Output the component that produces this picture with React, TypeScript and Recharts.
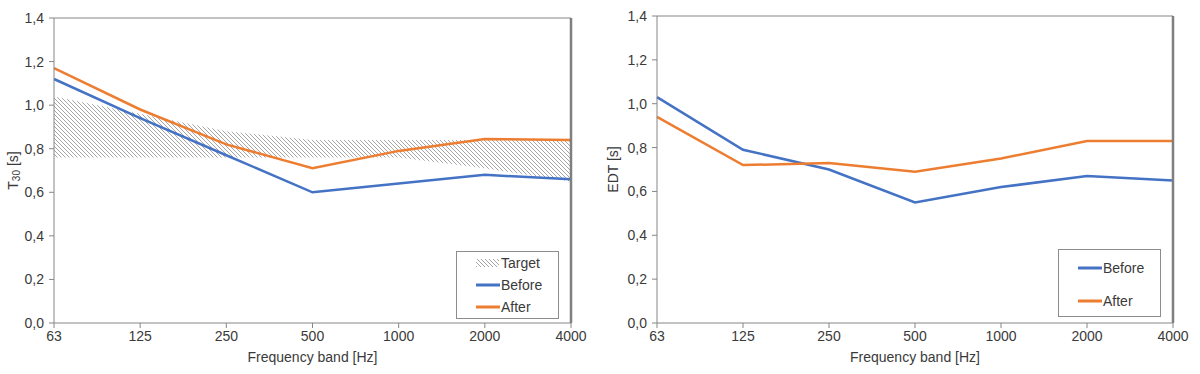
import React from 'react';
import {
  ComposedChart,
  LineChart,
  Line,
  Area,
  XAxis,
  YAxis,
  ReferenceLine,
  Label,
} from 'recharts';

const bands = ['63', '125', '250', '500', '1000', '2000', '4000'];
const t30Before = [1.12, 0.94, 0.77, 0.6, 0.64, 0.68, 0.66];
const t30After = [1.17, 0.98, 0.82, 0.71, 0.79, 0.845, 0.84];
const targetLow = [0.76, 0.76, 0.76, 0.76, 0.76, 0.71, 0.65];
const targetHigh = [1.04, 0.96, 0.88, 0.84, 0.84, 0.84, 0.84];
const edtBefore = [1.03, 0.79, 0.7, 0.55, 0.62, 0.67, 0.65];
const edtAfter = [0.94, 0.72, 0.73, 0.69, 0.75, 0.83, 0.83];
const yTicks = [0, 0.2, 0.4, 0.6, 0.8, 1.0, 1.2, 1.4];

const t30Data = bands.map((b, i) => ({
  band: b,
  before: t30Before[i],
  after: t30After[i],
  target: [targetLow[i], targetHigh[i]],
}));
const edtData = bands.map((b, i) => ({
  band: b,
  before: edtBefore[i],
  after: edtAfter[i],
}));

const BLUE = '#4472C4';
const ORANGE = '#ED7D31';
const AXIS = '#868686';
const TEXT = '#3a3a3a';
const FONT = '"Liberation Sans", Arial, sans-serif';
const FS = 14;

const fmt = (v: number) => v.toFixed(1).replace('.', ',');

const YLabel = ({ viewBox, kind }: any) => {
  const cx = viewBox.x + 13;
  const cy = viewBox.y + viewBox.height / 2;
  return (
    <text
      x={cx}
      y={cy}
      transform={`rotate(-90, ${cx}, ${cy})`}
      textAnchor="middle"
      dominantBaseline="central"
      fill={TEXT}
      fontSize={FS}
    >
      {kind === 't30' ? (
        <>
          T
          <tspan fontSize={10} dy={3}>30</tspan>
          <tspan dy={-3}> [s]</tspan>
        </>
      ) : (
        'EDT [s]'
      )}
    </text>
  );
};

const LegendBox = ({ left, top, items }: any) => (
  <div
    style={{
      position: 'absolute',
      left,
      top,
      width: 103,
      height: 68,
      border: '1px solid #8c8c8c',
      boxSizing: 'border-box',
      background: '#fff',
      fontFamily: FONT,
      fontSize: FS,
      color: TEXT,
    }}
  >
    {items.map((it: any) => (
      <div
        key={it.name}
        style={{
          position: 'absolute',
          left: 19,
          top: it.top,
          height: 16,
          display: 'flex',
          alignItems: 'center',
        }}
      >
        <svg width={24} height={10} style={{ display: 'block' }}>
          {it.type === 'hatch' ? (
            <rect x={0} y={1} width={23} height={8} fill="url(#hatch)" />
          ) : (
            <line x1={0} y1={5} x2={24} y2={5} stroke={it.color} strokeWidth={3} />
          )}
        </svg>
        <span style={{ marginLeft: 1 }}>{it.name}</span>
      </div>
    ))}
  </div>
);

export default function App() {
  return (
    <div
      style={{
        position: 'fixed',
        left: 0,
        top: 0,
        width: 1200,
        height: 374,
        background: '#fff',
        fontFamily: FONT,
      }}
    >
      <svg width={0} height={0} style={{ position: 'absolute' }}>
        <defs>
          <pattern id="hatch" patternUnits="userSpaceOnUse" width={4} height={4}>
            <path
              d="M-1,-1 L5,5 M3,-1 L5,1 M-1,3 L1,5"
              stroke="#a6a6a6"
              strokeWidth={1}
            />
          </pattern>
        </defs>
      </svg>

      <div style={{ position: 'absolute', left: 0, top: 0 }}>
        <ComposedChart
          width={600}
          height={374}
          data={t30Data}
          margin={{ top: 18, right: 29, bottom: 11, left: 0 }}
        >
          <XAxis
            dataKey="band"
            interval={0}
            height={40}
            tickSize={5}
            tickMargin={3}
            stroke={AXIS}
            tick={{ fill: TEXT, fontSize: FS }}
          >
            <Label value="Frequency band [Hz]" position="insideBottom" offset={1} fill={TEXT} fontSize={FS} />
          </XAxis>
          <YAxis
            width={54}
            domain={[0, 1.4]}
            ticks={yTicks}
            tickFormatter={fmt}
            tickSize={5}
            tickMargin={5}
            stroke={AXIS}
            tick={{ fill: TEXT, fontSize: FS }}
            label={(p: any) => <YLabel {...p} kind="t30" />}
          />
          <ReferenceLine y={1.4} stroke={AXIS} strokeWidth={1} />
          <Area
            dataKey="target"
            name="Target"
            type="linear"
            stroke="none"
            fill="url(#hatch)"
            fillOpacity={1}
            isAnimationActive={false}
          />
          <Line dataKey="before" name="Before" type="linear" stroke={BLUE} strokeWidth={2.5} dot={false} isAnimationActive={false} />
          <Line dataKey="after" name="After" type="linear" stroke={ORANGE} strokeWidth={2.5} dot={false} isAnimationActive={false} />
          <ReferenceLine x="4000" stroke="#7f7f7f" strokeWidth={2.5} />
        </ComposedChart>
        <LegendBox
          left={456}
          top={251}
          items={[
            { name: 'Target', type: 'hatch', top: 3 },
            { name: 'Before', color: BLUE, top: 25 },
            { name: 'After', color: ORANGE, top: 47 },
          ]}
        />
      </div>

      <div style={{ position: 'absolute', left: 600, top: 0 }}>
        <LineChart
          width={600}
          height={374}
          data={edtData}
          margin={{ top: 16, right: 27, bottom: 11, left: 0 }}
        >
          <XAxis
            dataKey="band"
            interval={0}
            height={40}
            tickSize={5}
            tickMargin={3}
            stroke={AXIS}
            tick={{ fill: TEXT, fontSize: FS }}
          >
            <Label value="Frequency band [Hz]" position="insideBottom" offset={1} fill={TEXT} fontSize={FS} />
          </XAxis>
          <YAxis
            width={57}
            domain={[0, 1.4]}
            ticks={yTicks}
            tickFormatter={fmt}
            tickSize={5}
            tickMargin={5}
            stroke={AXIS}
            tick={{ fill: TEXT, fontSize: FS }}
            label={(p: any) => <YLabel {...p} kind="edt" />}
          />
          <ReferenceLine y={1.4} stroke={AXIS} strokeWidth={1} />
          <Line dataKey="before" name="Before" type="linear" stroke={BLUE} strokeWidth={2.5} dot={false} isAnimationActive={false} />
          <Line dataKey="after" name="After" type="linear" stroke={ORANGE} strokeWidth={2.5} dot={false} isAnimationActive={false} />
          <ReferenceLine x="4000" stroke="#7f7f7f" strokeWidth={2.5} />
        </LineChart>
        <LegendBox
          left={458}
          top={249}
          items={[
            { name: 'Before', color: BLUE, top: 10 },
            { name: 'After', color: ORANGE, top: 43 },
          ]}
        />
      </div>
    </div>
  );
}
